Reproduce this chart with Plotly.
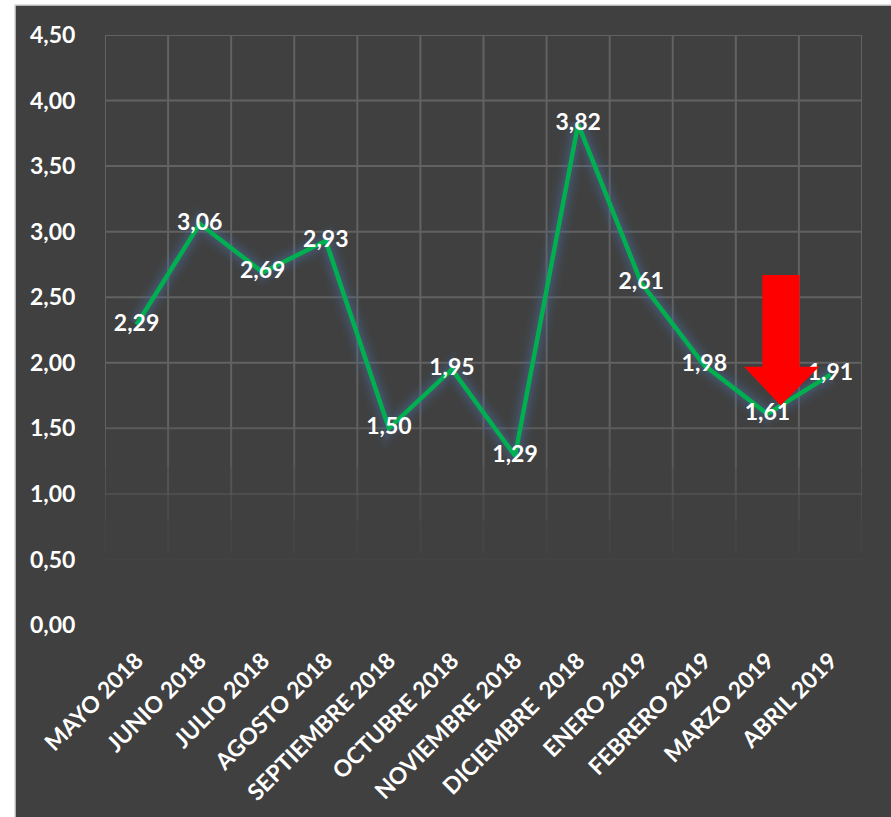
import plotly.graph_objects as go

categories = ["MAYO 2018", "JUNIO 2018", "JULIO 2018", "AGOSTO 2018", "SEPTIEMBRE 2018",
              "OCTUBRE 2018", "NOVIEMBRE 2018", "DICIEMBRE\u00a0 2018", "ENERO 2019",
              "FEBRERO 2019", "MARZO 2019", "ABRIL 2019"]
values = [2.29, 3.06, 2.69, 2.93, 1.50, 1.95, 1.29, 3.82, 2.61, 1.98, 1.61, 1.91]
labels = [f"{v:.2f}".replace(".", ",") for v in values]
y_ticks = [0, 0.5, 1, 1.5, 2, 2.5, 3, 3.5, 4, 4.5]
y_ticktext = [f"{v:.2f}".replace(".", ",") for v in y_ticks]

idx = list(range(len(categories)))
FONT = "Lato"
BG = "#404040"

fig = go.Figure()

# soft bluish glow under the line
for w, a in [(26, 0.07), (20, 0.09), (15, 0.12), (10, 0.16)]:
    fig.add_trace(go.Scatter(x=idx, y=values, mode="lines",
                             line=dict(color=f"rgba(75,110,160,{a})", width=w),
                             hoverinfo="skip", showlegend=False))

fig.add_trace(go.Scatter(x=idx, y=values, mode="lines+text",
                         line=dict(color="#00B050", width=4.5),
                         text=labels, textposition="middle center",
                         textfont=dict(family=FONT, size=23, color="white", weight="bold"),
                         showlegend=False, cliponaxis=False))

shapes = []
# dark background panel
shapes.append(dict(type="rect", xref="paper", yref="paper", x0=-0.1189, x1=1.1, y0=-0.4, y1=1.0509,
                   fillcolor=BG, line=dict(color="#d9d9d9", width=1.5), layer="below"))

# fading grid lines (horizontal)
grid_op = {4.5: 1, 4: 1, 3.5: 1, 3: 1, 2.5: 1, 2: 1, 1.5: 0.8, 1: 0.4, 0.5: 0.08, 0: 0.0}
for v in y_ticks:
    op = grid_op[v]
    if op > 0:
        shapes.append(dict(type="line", xref="x", yref="y", x0=-0.5, x1=len(categories) - 0.5,
                           y0=v, y1=v, line=dict(color=f"rgba(98,98,98,{op})", width=2), layer="below"))
# vertical grid lines, fading toward the bottom
segs = [(4.5, 1.5, 1), (1.5, 1.2, 0.8), (1.2, 1.0, 0.55), (1.0, 0.8, 0.35), (0.8, 0.55, 0.15)]
for i in range(len(categories) + 1):
    xv = i - 0.5
    for y0, y1, op in segs:
        shapes.append(dict(type="line", xref="x", yref="y", x0=xv, x1=xv, y0=y0, y1=y1,
                           line=dict(color=f"rgba(98,98,98,{op})", width=2), layer="below"))

# red down arrow near MARZO 2019
ax = 10.21
arrow_path = (f"M {ax-0.29},2.67 L {ax+0.30},2.67 L {ax+0.30},1.97 L {ax+0.61},1.97 "
              f"L {ax},1.675 L {ax-0.58},1.97 L {ax-0.29},1.97 Z")
shapes.append(dict(type="path", xref="x", yref="y", path=arrow_path,
                   fillcolor="#FF0000", line=dict(width=0), layer="above"))

fig.update_layout(
    width=891, height=817,
    margin=dict(l=105, r=29, t=35, b=192),
    paper_bgcolor="white", plot_bgcolor="rgba(0,0,0,0)",
    shapes=shapes,
    font=dict(family=FONT, color="white"),
)
fig.update_xaxes(range=[-0.5, len(categories) - 0.5], tickmode="array", tickvals=idx,
                 ticktext=categories, tickangle=-45, showgrid=False, zeroline=False,
                 showline=False, ticks="outside", ticklen=12, tickcolor="rgba(0,0,0,0)",
                 tickfont=dict(family=FONT, size=23, color="white", weight="bold"))
fig.update_yaxes(range=[0, 4.5], tickmode="array", tickvals=y_ticks, ticktext=y_ticktext,
                 showgrid=False, zeroline=False, showline=False,
                 ticks="outside", ticklen=24, tickcolor="rgba(0,0,0,0)",
                 tickfont=dict(family=FONT, size=23, color="white", weight="bold"))

fig.write_html("out.html")
